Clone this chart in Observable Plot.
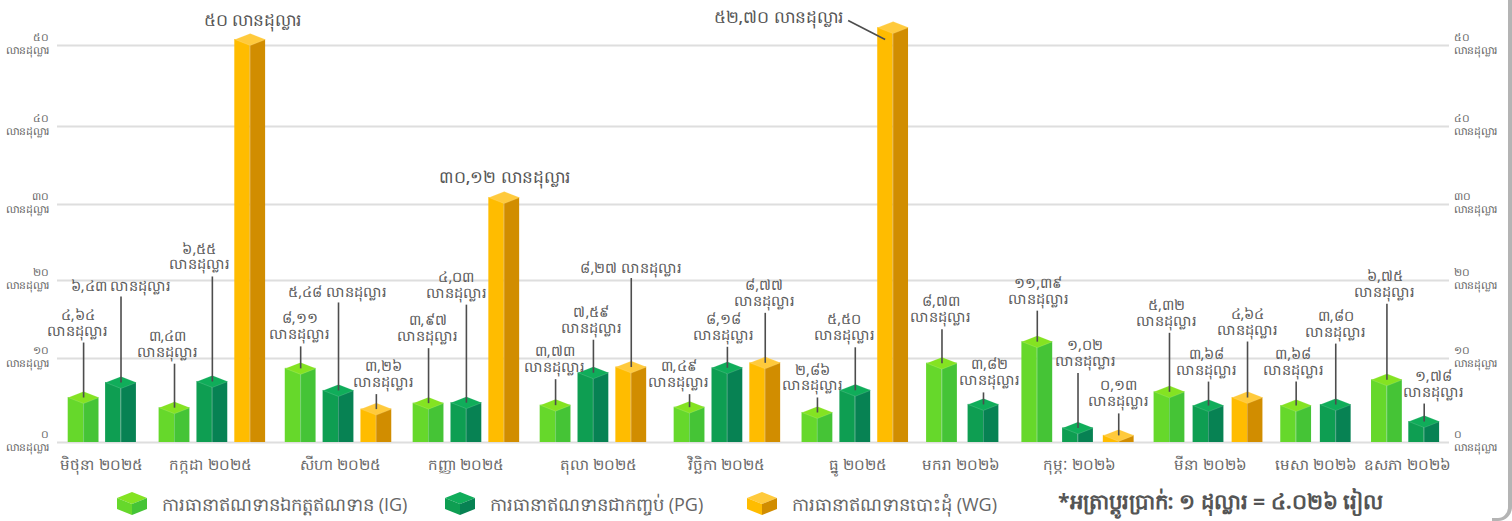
<!DOCTYPE html>
<html lang="km">
<head>
<meta charset="utf-8">
<script src="https://cdn.jsdelivr.net/npm/d3@7"></script>
<script src="https://cdn.jsdelivr.net/npm/@observablehq/plot@0.6"></script>
<style>
html,body{margin:0;padding:0;background:#fff;overflow:hidden;}
body{width:1512px;height:521px;position:relative;font-family:"Open Sans","Noto Sans",sans-serif;color:#5a5a5a;}
#chart svg{display:block;}
#legend{position:relative;height:40px;width:1512px;}
#legend .sw{position:absolute;top:11px;}
#legend .lb{position:absolute;top:11px;font-size:18px;line-height:24px;white-space:nowrap;color:#666;}
#legend .note{position:absolute;left:1058px;top:3px;font-size:21.2px;line-height:34px;font-weight:700;white-space:nowrap;color:#555;}
#frame{position:absolute;right:0;top:-14px;width:20px;height:535px;border-right:4px solid #b4b4b4;border-bottom:3px solid #b4b4b4;border-bottom-right-radius:14px;box-sizing:border-box;pointer-events:none;}
</style>
</head>
<body>
<div id="chart"></div>
<div id="legend"></div>
<div id="frame"></div>
<script>
// ---- chart values ----
const months = ["មិថុនា ២០២៥","កក្កដា ២០២៥","សីហា ២០២៥","កញ្ញា ២០២៥","តុលា ២០២៥","វិច្ឆិកា ២០២៥","ធ្នូ ២០២៥","មករា ២០២៦","កុម្ភៈ ២០២៦","មីនា ២០២៦","មេសា ២០២៦","ឧសភា ២០២៦"];
const igValues = [4.64,3.43,8.11,3.97,3.73,3.49,2.86,8.73,11.39,5.32,3.68,6.75];
const pgValues = [6.43,6.55,5.48,4.03,7.59,8.18,5.50,3.82,1.02,3.68,3.80,1.78];
const wgValues = [null,50,3.26,30.12,8.27,8.77,52.70,null,0.13,4.64,null,null];
const seriesNames = ["ការធានាឥណទានឯកត្តឥណទាន (IG)","ការធានាឥណទានជាកញ្ចប់ (PG)","ការធានាឥណទានបោះដុំ (WG)"];
const yTicks = [0,10,20,30,40,50];
const unit = "លានដុល្លារ";
const note = "*អត្រាប្តូរប្រាក់: ១ ដុល្លារ = ៤.០២៦ រៀល";

// ---- layout of the category slots and the hand-placed labels ----
const monthSlots = [1.03,3.56,6.46,9.40,12.32,15.40,18.34,20.81,23.46,26.46,28.93,30.99];
const monthPitch = [.86,.87,.87,.87,.87,.87,.87,.954,.936,.897,.91,.857];
const monthLabelSlots = [1.01,3.52,6.51,9.40,12.44,15.38,18.41,20.76,23.49,26.51,28.94,31.03];
const leaderLen = [55,86, 44,105,8, 22,88,15, 55,98,9, 26,33,89, 13,21,50, 15,43,-1, 34,12, 31,55,22, 59,24,56, 24,61, 76,18];
const labelDx   = [-6,0, -7,-13,2, -1,-1,7, -1,-10,0, -1,-2,0, -11,-4,-1, -5,-11,-115, -1,6, 1,7,0, -3,-2,0, -3,0, -2,9];
const oneLine = new Set(["0:PG","1:WG","2:PG","3:WG","4:WG","6:WG"]);
const yDomain = [0,10,20,30,40,50,60];
const yRange = [442,358,280,204,126,45,1];
const slotPx = 43.5, halfW = 15.4 / slotPx, lift = 6;

const styles = {
  IG:{top:"#84E322",front:"#66D82B",side:"#45C436"},
  PG:{top:"#10AD5A",front:"#0E9E52",side:"#078253"},
  WG:{top:"#FFCA3C",front:"#FFBC00",side:"#D18D00"}
};
const KH = "០១២៣៤៥៦៧៨៩";
const kh = s => String(s).replace(/\d/g, d => KH[+d]);
const fmt = v => Number.isInteger(v) ? kh(v) : kh(v.toFixed(2).replace(".", ","));

const yS = d3.scaleLinear(yDomain, yRange);
const rows = [];
months.forEach((m,i) => {
  const vals = [["IG",igValues[i]],["PG",pgValues[i]],["WG",wgValues[i]]].filter(d => d[1] != null);
  vals.forEach(([s,v],j) => {
    const k = rows.length;
    const c = monthSlots[i] + (j - (vals.length-1)/2) * monthPitch[i];
    const topPx = yS(v) - lift - leaderLen[k];
    const single = oneLine.has(i+":"+s);
    const big = v >= 30;
    rows.push({
      month:m, series:s, value:v, c, big,
      leaderY: yS.invert(topPx),
      bottomY: yS.invert(yS(v) - lift),
      textY: yS.invert(topPx - (big ? 6 : single ? 5 : 7)),
      textX: c + labelDx[k]/slotPx,
      label: fmt(v) + (single ? " " : "\n") + unit
    });
  });
});
const small = rows.filter(r => !r.big), big = rows.filter(r => r.big);
const dec = rows.find(r => r.value === 52.7);
const diagonal = [{x1:dec.c-45/slotPx, x2:dec.c-8/slotPx, y1:yS.invert(20), y2:yS.invert(39)}];

const face = (s,key,x1,x2) => Plot.rect(rows.filter(r=>r.series===s),{x1,x2,y1:()=>0,y2:"value",insetTop:-lift,fill:styles[s][key]});
const rhomb = {draw(ctx){ctx.moveTo(-15.4,0);ctx.lineTo(0,-6);ctx.lineTo(15.4,0);ctx.lineTo(0,6);ctx.closePath();}};

const plot = Plot.plot({
  width:1512, height:481,
  marginLeft:57, marginRight:63, marginTop:0, marginBottom:0,
  style:{background:"transparent"},
  x:{domain:[0,32], axis:null},
  y:{type:"linear", domain:yDomain, range:yRange, axis:null},
  marks:[
    Plot.ruleY(yTicks,{stroke:"#dedede",strokeWidth:2}),
    Plot.axisY({anchor:"left",ticks:yTicks,tickSize:0,tickPadding:9,label:null,fontSize:10.8,lineHeight:1.15,dy:-2,tickFormat:d=>kh(d)+"\n"+unit,fill:"#666"}),
    Plot.axisY({anchor:"right",ticks:yTicks,tickSize:0,tickPadding:4,label:null,fontSize:10.8,lineHeight:1.15,dy:-2,tickFormat:d=>kh(d)+"\n"+unit,fill:"#666"}),
    ...["IG","PG","WG"].flatMap(s => [
      face(s,"front",r=>r.c-halfW,"c"),
      face(s,"side","c",r=>r.c+halfW),
      Plot.link(rows.filter(r=>r.series===s),{x:"c",y1:()=>0,y2:"value",stroke:"#fff",strokeOpacity:.22,strokeWidth:1}),
      Plot.dot(rows.filter(r=>r.series===s),{x:"c",y:"value",symbol:rhomb,fill:styles[s].top,stroke:"#fff",strokeOpacity:.18,strokeWidth:.8,dy:-lift})
    ]),
    Plot.link(small,{x:"c",y1:"bottomY",y2:"leaderY",stroke:"#4d4d4d",strokeWidth:1.6}),
    Plot.link(diagonal,{x1:"x1",x2:"x2",y1:"y1",y2:"y2",stroke:"#4d4d4d",strokeWidth:1.6}),
    Plot.text(small,{x:"textX",y:"textY",text:"label",lineAnchor:"bottom",fontSize:14.5,lineHeight:1.1,fill:"#5a5a5a"}),
    Plot.text(big,{x:"textX",y:"textY",text:"label",lineAnchor:"bottom",fontSize:17,fontWeight:500,fill:"#555"}),
    Plot.text(months,{x:(d,i)=>monthLabelSlots[i],y:()=>0,dy:23,text:d=>d,fontSize:15,fill:"#666"})
  ]
});
document.getElementById("chart").append(plot);

// ---- legend below the chart ----
const legend = document.getElementById("legend");
const cube = c => `<svg width="30" height="23" viewBox="0 0 30 23"><polygon points="0,6 15,0 30,6 15,12" fill="${c.top}"/><polygon points="0,6 15,12 15,23 0,17" fill="${c.front}"/><polygon points="30,6 15,12 15,23 30,17" fill="${c.side}"/></svg>`;
[["IG",117,162],["PG",445,490],["WG",747,792]].forEach(([s,sx,lx],i) => {
  legend.insertAdjacentHTML("beforeend",`<span class="sw" style="left:${sx}px">${cube(styles[s])}</span><span class="lb" style="left:${lx}px">${seriesNames[i]}</span>`);
});
legend.insertAdjacentHTML("beforeend",`<span class="note">${note}</span>`);
</script>
</body>
</html>
